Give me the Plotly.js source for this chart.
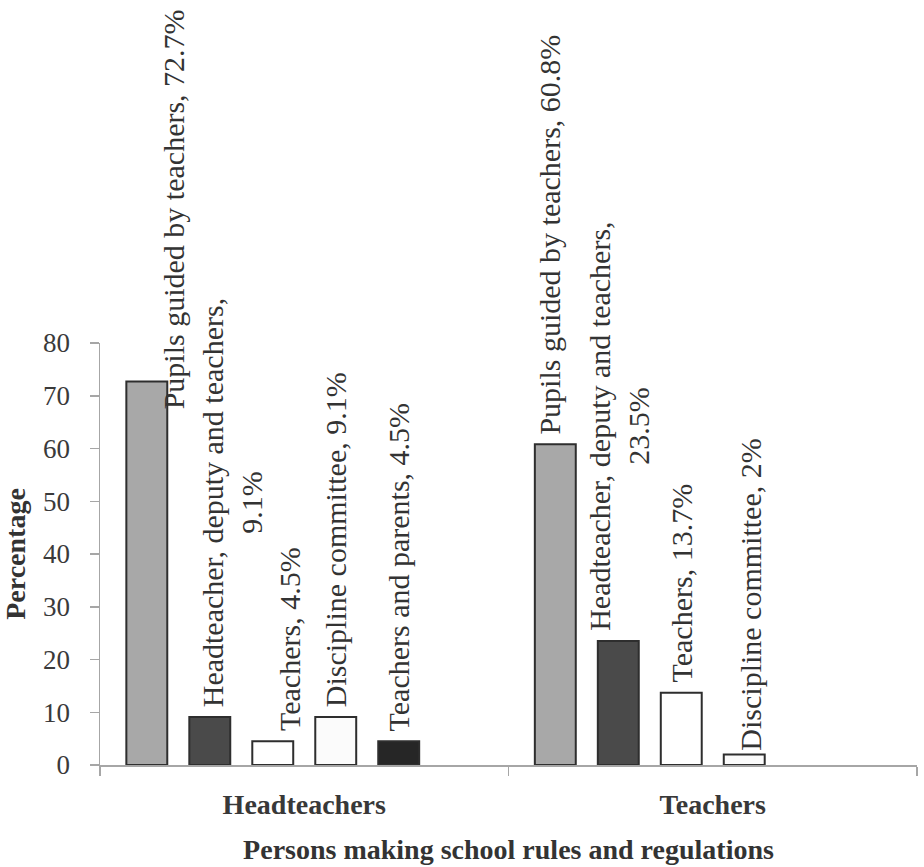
<!DOCTYPE html>
<html>
<head>
<meta charset="utf-8">
<script src="https://cdn.plot.ly/plotly-3.0.1.min.js"></script>
<style>
  html, body { margin: 0; padding: 0; background: #ffffff; }
  #chart { width: 924px; height: 867px; }
</style>
</head>
<body>
<div id="chart"></div>
<script>
// ---------------- data ----------------
var categories = ["Headteachers", "Teachers"];
var seriesNames = [
  "Pupils guided by teachers",
  "Headteacher, deputy and teachers",
  "Teachers",
  "Discipline committee",
  "Teachers and parents"
];
var pupilsGuided      = [72.7, 60.8];
var headDeputyTeach   = [9.1, 23.5];
var teachersOnly      = [4.5, 13.7];
var disciplineComm    = [9.1, 2];
var teachersParents   = [4.5, null];
var yTickValues = [0, 10, 20, 30, 40, 50, 60, 70, 80];
var yAxisTitle = "Percentage";
var xAxisTitle = "Persons making school rules and regulations";

// ---------------- styles ----------------
var seriesValues = [pupilsGuided, headDeputyTeach, teachersOnly, disciplineComm, teachersParents];
var fillColors = ["#a8a8a8", "#4a4a4a", "#ffffff", "#fbfbfb", "#262626"];
var labelBreak = [false, true, false, false, false];
// label offsets in px (per series, per category)
var labelDx = [[27, -6], [22, 0], [16, 0], [0, 6], [0, 0]];
var labelDy = [[-30, 8], [8, 8], [8, 8], [8, 2], [8, 0]];
var serif = "Liberation Serif, Times New Roman, serif";
var textColor = "#333333";
var axisColor = "#a6a6a6";

var traces = seriesValues.map(function (vals, i) {
  return {
    type: "bar",
    name: seriesNames[i],
    x: categories,
    y: vals,
    marker: { color: fillColors[i], line: { color: "#2e2e2e", width: 2 } },
    hoverinfo: "name+y"
  };
});
// empty sixth slot (the original chart keeps room for an unused series)
traces.push({ type: "bar", name: "", x: categories, y: [null, null], showlegend: false, hoverinfo: "skip" });

var layout = {
  width: 924,
  height: 867,
  margin: { l: 100, r: 7, t: 343, b: 102 },
  paper_bgcolor: "#ffffff",
  plot_bgcolor: "#ffffff",
  showlegend: false,
  barmode: "group",
  bargap: 0.075,
  bargroupgap: 0.35,
  font: { family: serif, color: textColor },
  xaxis: {
    type: "category",
    showline: true, linecolor: axisColor, linewidth: 1.5,
    ticks: "outside", tickson: "boundaries", ticklen: 9, tickcolor: axisColor, tickwidth: 1.5,
    ticklabelstandoff: 14,
    tickfont: { family: serif, size: 28, color: "#383838", weight: "bold" },
    showgrid: false, zeroline: false,
    automargin: false,
    title: { text: xAxisTitle, standoff: 20, font: { family: serif, size: 28, color: textColor, weight: "bold" } }
  },
  yaxis: {
    range: [0, 80],
    tickvals: yTickValues,
    showline: true, linecolor: axisColor, linewidth: 1.5,
    ticks: "outside", ticklen: 9, tickcolor: axisColor, tickwidth: 1.5,
    ticklabelstandoff: 14,
    tickfont: { family: serif, size: 27, color: "#3a3a3a" },
    showgrid: false, zeroline: false,
    automargin: false,
    title: { text: yAxisTitle, standoff: 12, font: { family: serif, size: 28, color: textColor, weight: "bold" } }
  },
  annotations: []
};

var gd = document.getElementById("chart");
Plotly.newPlot(gd, traces, layout, { displayModeBar: false, staticPlot: true }).then(function () {
  var anns = [];
  // data labels rotated above each bar
  seriesValues.forEach(function (vals, i) {
    var cd = gd.calcdata[i];
    vals.forEach(function (v, j) {
      if (v === null || v === undefined) return;
      var xc = (cd && cd[j] && isFinite(cd[j].x)) ? cd[j].x : j;
      anns.push({
        xref: "x", yref: "y", x: xc, y: v,
        xanchor: "center", yanchor: "bottom",
        xshift: labelDx[i][j], yshift: labelDy[i][j],
        textangle: -90, showarrow: false, align: "center",
        text: seriesNames[i] + "," + (labelBreak[i] ? "<br>" : " ") + v + "%",
        font: { family: serif, size: 30, color: textColor }
      });
    });
  });
  return Plotly.relayout(gd, { annotations: anns });
});
</script>
</body>
</html>
